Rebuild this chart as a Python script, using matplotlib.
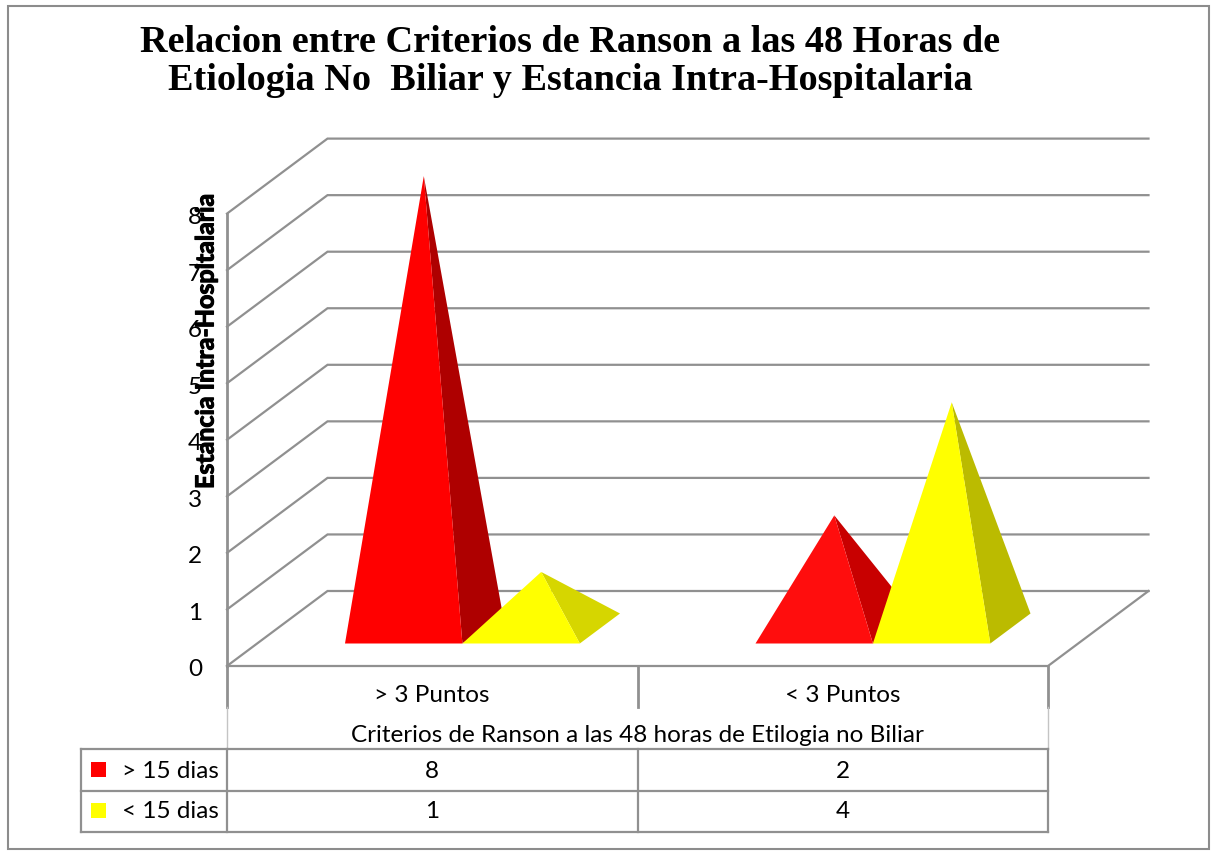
import matplotlib
matplotlib.use('Agg')
import matplotlib.pyplot as plt
import matplotlib.patheffects as pe
from matplotlib.patches import Polygon, Rectangle

#data of the chart
categories = ['> 3 Puntos', '< 3 Puntos']
series_names = ['> 15 dias', '< 15 dias']
mas_15_dias = [8, 2]
menos_15_dias = [1, 4]
y_ticks = [0, 1, 2, 3, 4, 5, 6, 7, 8]

title_lines = ['Relacion entre Criterios de Ranson a las 48 Horas de',
               'Etiologia No  Biliar y Estancia Intra-Hospitalaria']
y_title = 'Estancia Intra-Hospitalaria'
x_title = 'Criterios de Ranson a las 48 horas de Etilogia no Biliar'

#colors
front_colors = [['#ff0000', '#ff0d0d'], ['#ffff00', '#ffff00']]
side_colors = [['#ae0000', '#c80000'], ['#d6d600', '#bbbb00']]
line_color = '#909090'

#oblique frame of the chart, in pixels
X0, X1 = 227, 1048
Y0 = 666
UNIT = 56.55
DEPTH_X, DEPTH_Y = 100.5, -75
LW = 1.6
FONT = 'Lato'
FS = 17.5


def project(cat, value, depth=0.0):
    #cat in category units, value in chart units, depth 0 (front) to 1 (back)
    x = X0 + cat * (X1 - X0) / len(categories) + depth * DEPTH_X
    y = Y0 - value * UNIT + depth * DEPTH_Y
    return x, y


fig = plt.figure(figsize=(12.12, 8.52), dpi=100)
ax = fig.add_axes([0, 0, 1, 1])
ax.set_xlim(0, 1212)
ax.set_ylim(852, 0)
ax.axis('off')

#outer frame
ax.add_patch(Rectangle((8, 6), 1201, 843, fill=False, edgecolor='#8c8c8c', lw=1.5))

#title
for i, line in enumerate(title_lines):
    ax.text(570, 43 + i * 38, line, family='Liberation Serif', weight='bold', fontsize=27.5,
            ha='center', va='center', color='black')

#walls and floor
for v in y_ticks:
    xa, ya = project(0, v)
    xb, yb = project(0, v, 1)
    xc, yc = project(2, v, 1)
    ax.plot([xa, xb, xc], [ya, yb, yc], color=line_color, lw=LW, solid_joinstyle='miter')
    ax.text(195, ya + 4, str(v), family=FONT, fontsize=FS, ha='center', va='center')

ax.plot(*zip(project(0, 0), project(0, y_ticks[-1])), color=line_color, lw=LW + 0.4)
ax.plot(*zip(project(0, 0), project(2, 0), project(2, 0, 1)), color=line_color, lw=LW)

#pyramids
BAR_WIDTH = 0.286
GAP = 0.214
BASE_FRONT = 0.3
BASE_DEPTH = 0.4
values = [mas_15_dias, menos_15_dias]
for c in range(len(categories)):
    for s in range(len(values)):
        left = c + GAP + s * BAR_WIDTH
        right = left + BAR_WIDTH
        mid = (left + right) / 2
        apex = project(mid, values[s][c], BASE_FRONT + BASE_DEPTH / 2)
        a = project(left, 0, BASE_FRONT)
        b = project(right, 0, BASE_FRONT)
        d = project(right, 0, BASE_FRONT + BASE_DEPTH)
        ax.add_patch(Polygon([b, d, apex], closed=True, facecolor=side_colors[s][c], edgecolor='none', zorder=3 + s))
        ax.add_patch(Polygon([a, b, apex], closed=True, facecolor=front_colors[s][c], edgecolor='none', zorder=3 + s))

#data table
ROW_TOP, ROW_MID, ROW_BOTTOM = 749, 790.5, 832
X_LEFT = 81
X_MID = (X0 + X1) / 2
ax.plot([X0, X0], [Y0, 707], color=line_color, lw=LW + 0.4)
ax.plot([X0, X0], [707, ROW_TOP], color='#c4c4c4', lw=1)
ax.plot([X1, X1], [Y0, 707], color=line_color, lw=LW + 0.4)
ax.plot([X1, X1], [707, ROW_TOP], color='#c4c4c4', lw=1)
ax.plot([X_MID, X_MID], [Y0, 707], color=line_color, lw=LW + 0.4)
for y in [ROW_TOP, ROW_MID, ROW_BOTTOM]:
    ax.plot([X_LEFT, X1], [y, y], color=line_color, lw=LW)
for x in [X_LEFT, X0, X_MID, X1]:
    ax.plot([x, x], [ROW_TOP, ROW_BOTTOM], color=line_color, lw=LW)

for c, name in enumerate(categories):
    cx = X0 + (c + 0.5) * (X1 - X0) / len(categories)
    ax.text(cx, 695, name, family=FONT, fontsize=FS, ha='center', va='center')
    ax.text(cx, 771, str(mas_15_dias[c]), family=FONT, fontsize=FS, ha='center', va='center')
    ax.text(cx, 812, str(menos_15_dias[c]), family=FONT, fontsize=FS, ha='center', va='center')

ax.text((X0 + X1) / 2, 735, x_title, family=FONT, fontsize=FS, ha='center', va='center')

#legend keys inside the table
for s, name in enumerate(series_names):
    ymid = 769.5 + s * 41
    ax.add_patch(Rectangle((91, ymid - 7.5), 15, 15, facecolor=front_colors[s][0], edgecolor='none'))
    ax.text(219, ymid + 1.5, name, family=FONT, fontsize=FS, ha='right', va='center')

#y axis title over the tick labels, the stroke thickens it since it comes out thin
ax.text(206, 341, y_title, family=FONT, weight='bold', fontsize=18, rotation=90, ha='center', va='center',
        path_effects=[pe.withStroke(linewidth=0.8, foreground='black')])

fig.savefig('out.png', dpi=100)
